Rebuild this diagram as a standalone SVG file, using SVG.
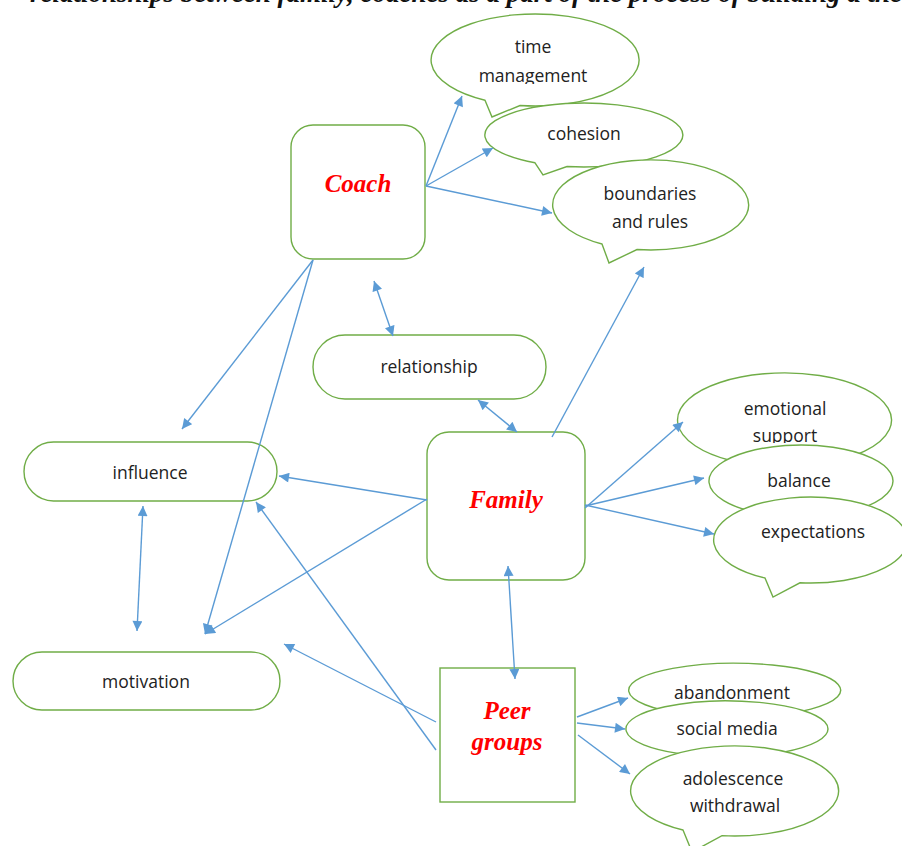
<svg xmlns="http://www.w3.org/2000/svg" width="902" height="846" viewBox="0 0 902 846">
<style>
.box{fill:#fff;stroke:#70AD47;stroke-width:1.4}
.lbl{font-family:"Open Sans","Liberation Sans",sans-serif;font-size:17.5px;fill:#222;text-anchor:middle}
.main{font-family:"Liberation Serif","Times New Roman",serif;font-size:25px;font-weight:bold;font-style:italic;fill:#FF0000;text-anchor:middle}
.cap{font-family:"Liberation Serif","Times New Roman",serif;font-size:27px;font-weight:bold;font-style:italic;fill:#111}
.con line{stroke:#5B9BD5;stroke-width:1.4;fill:none}
</style>
<defs>
<marker id="ah" viewBox="0 0 10 10" refX="10" refY="5" markerWidth="11" markerHeight="10" markerUnits="userSpaceOnUse" orient="auto-start-reverse">
<path d="M0,0 L10,5 L0,10 Z" fill="#5B9BD5"/>
</marker>
<clipPath id="c1"><rect x="420" y="0" width="240" height="84"/></clipPath>
<clipPath id="c2"><rect x="670" y="370" width="230" height="73"/></clipPath>
<clipPath id="c3"><rect x="620" y="660" width="230" height="40"/></clipPath>
</defs>
<text class="cap" x="30" y="2">relationships between family, coaches as a part of the process of building a the</text>

<g id="coach">
<rect class="box" x="291" y="125" width="134" height="134" rx="22"/>
<text class="main" x="358" y="192">Coach</text>
</g>
<g id="family">
<rect class="box" x="427" y="432" width="158" height="148" rx="22"/>
<text class="main" x="506" y="508">Family</text>
</g>
<g id="peer-groups">
<rect class="box" x="440" y="668" width="135" height="134"/>
<text class="main" x="507" y="719">Peer</text>
<text class="main" x="507" y="750">groups</text>
</g>
<g id="relationship">
<rect class="box" x="313" y="335" width="233" height="64" rx="32"/>
<text class="lbl" x="429" y="373">relationship</text>
</g>
<g id="influence">
<rect class="box" x="24" y="442" width="253" height="59" rx="29.5"/>
<text class="lbl" x="150" y="479">influence</text>
</g>
<g id="motivation">
<rect class="box" x="13" y="652" width="267" height="58" rx="29"/>
<text class="lbl" x="146" y="688">motivation</text>
</g>

<g id="time-management">
<path class="box" d="M485,100.3 L492,117 L520,105.5 A104 46 0 1 0 485,100.3 Z"/>
<text class="lbl" x="533" y="53">time</text>
<text class="lbl" x="533" y="82" clip-path="url(#c1)">management</text>
</g>
<g id="cohesion">
<path class="box" d="M535,162.8 L543,175 L567,166.5 A99 32 0 1 0 535,162.8 Z"/>
<text class="lbl" x="584" y="140">cohesion</text>
</g>
<g id="boundaries-and-rules">
<path class="box" d="M602,244 L609,263 L637,249.5 A98 45 0 1 0 602,244 Z"/>
<text class="lbl" x="650" y="200">boundaries</text>
<text class="lbl" x="650" y="228">and rules</text>
</g>
<g id="emotional-support">
<path class="box" d="M730.5,460.5 L738,482 L770,466.5 A107 47 0 1 0 730.5,460.5 Z"/>
<text class="lbl" x="785" y="415">emotional</text>
<text class="lbl" x="785" y="442" clip-path="url(#c2)">support</text>
</g>
<g id="balance">
<path class="box" d="M754,512 L760,530 L785,516.5 A92 36 0 1 0 754,512 Z"/>
<text class="lbl" x="799" y="487">balance</text>
</g>
<g id="expectations">
<path class="box" d="M765,578 L773,597 L800,582.8 A97 43 0 1 0 765,578 Z"/>
<text class="lbl" x="813" y="538">expectations</text>
</g>
<g id="abandonment">
<path class="box" d="M680,713.4 L686,725 L715,716.8 A106 27 0 1 0 680,713.4 Z"/>
<text class="lbl" x="732" y="699" clip-path="url(#c3)">abandonment</text>
</g>
<g id="social-media">
<path class="box" d="M678,753.4 L684,766 L712,756.6 A101 28 0 1 0 678,753.4 Z"/>
<text class="lbl" x="727" y="735">social media</text>
</g>
<g id="adolescence-withdrawal">
<path class="box" d="M683,830 L692,852 L722,835.6 A104 45 0 1 0 683,830 Z"/>
<text class="lbl" x="733" y="785">adolescence</text>
<text class="lbl" x="735" y="812">withdrawal</text>
</g>

<g id="connectors" class="con">
<line x1="426" y1="186" x2="462" y2="96" marker-end="url(#ah)"/>
<line x1="426" y1="186" x2="493" y2="148" marker-end="url(#ah)"/>
<line x1="426" y1="186" x2="552" y2="213" marker-end="url(#ah)"/>
<line x1="313" y1="260" x2="182" y2="429" marker-end="url(#ah)"/>
<line x1="313" y1="260" x2="205" y2="634" marker-end="url(#ah)"/>
<line x1="374" y1="281" x2="393" y2="336" marker-start="url(#ah)" marker-end="url(#ah)"/>
<line x1="478" y1="400" x2="517" y2="432" marker-start="url(#ah)" marker-end="url(#ah)"/>
<line x1="552" y1="437" x2="644" y2="267" marker-end="url(#ah)"/>
<line x1="427" y1="500" x2="279" y2="476" marker-end="url(#ah)"/>
<line x1="427" y1="499" x2="205" y2="634" marker-end="url(#ah)"/>
<line x1="143" y1="506" x2="137" y2="631" marker-start="url(#ah)" marker-end="url(#ah)"/>
<line x1="585" y1="508" x2="683" y2="422" marker-end="url(#ah)"/>
<line x1="585" y1="506" x2="704" y2="478" marker-end="url(#ah)"/>
<line x1="585" y1="505" x2="714" y2="534" marker-end="url(#ah)"/>
<line x1="508" y1="566" x2="515" y2="679" marker-start="url(#ah)" marker-end="url(#ah)"/>
<line x1="436" y1="722" x2="284" y2="644" marker-end="url(#ah)"/>
<line x1="436" y1="750" x2="256" y2="502" marker-end="url(#ah)"/>
<line x1="577" y1="717" x2="628" y2="698" marker-end="url(#ah)"/>
<line x1="577" y1="723" x2="625" y2="729" marker-end="url(#ah)"/>
<line x1="578" y1="735" x2="630" y2="774" marker-end="url(#ah)"/>
</g>
</svg>
